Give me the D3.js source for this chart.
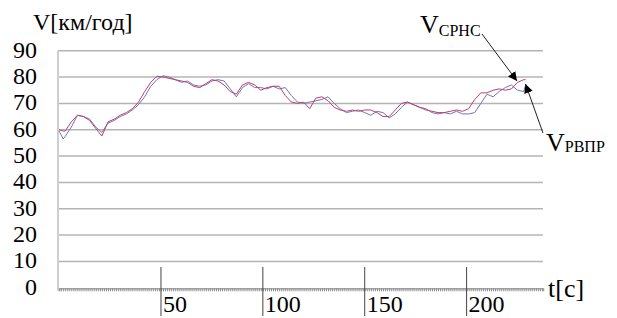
<!DOCTYPE html>
<html>
<head>
<meta charset="utf-8">
<script src="https://d3js.org/d3.v7.min.js"></script>
<style>
  body { margin: 0; background: #fff; }
  svg text { font-family: 'Liberation Serif', 'DejaVu Serif', serif !important; }
</style>
</head>
<body>
<div id="chart"></div>
<script>
// time (s)
var chasy = [0, 2, 3, 6, 9, 12, 15, 18, 21, 24, 27, 30, 33, 36, 39, 42, 45, 48, 51, 54, 57,
  60, 63, 66, 69, 72, 75, 78, 81, 84, 87, 90, 93, 96, 99, 102, 105, 108, 111, 114, 117,
  120, 123, 126, 129, 132, 135, 138, 141, 144, 147, 150, 153, 156, 159, 162, 165, 168,
  171, 174, 177, 180, 183, 186, 189, 192, 195, 198, 201, 204, 207, 210, 213, 216, 219,
  222, 225, 228, 229];
// V СРНС (red)
var vSrns = [60, 59.5, 59.5, 63, 65.5, 65, 63.5, 60.5, 57.6, 63, 64, 65.5, 66.5, 68, 70.5,
  74.5, 78, 80.3, 80, 79.5, 79, 78.5, 78, 76.5, 76, 77.5, 79, 78.5, 77, 74.5, 73.5, 77, 78,
  77, 75, 76, 76.5, 76.5, 73, 70.5, 70, 70.5, 68, 72, 72.5, 71, 68.5, 67.5, 67, 67.5, 67,
  67.5, 67.5, 66.5, 65, 65, 67.5, 70, 70.5, 69.5, 68.5, 67.5, 67, 66.5, 66.5, 67, 67.5, 67,
  68, 71.5, 74, 74, 75, 75.5, 75, 75.5, 78, 79, 79];
// V РВПР (blue)
var vRvpr = [59.5, 56.5, 57.5, 61, 65.5, 65, 64, 61, 59, 62.5, 63.5, 65, 66, 67.5, 69.5,
  72.5, 76.5, 79, 80.5, 80, 79, 78, 78.5, 77, 76.5, 77, 78.5, 79, 78.5, 75.5, 72.5, 76,
  77.5, 76, 76, 75.5, 76.5, 75.5, 76, 73, 70.5, 70, 70.5, 71, 71.5, 72.5, 70, 68, 66.5, 67,
  67.5, 66.5, 65.5, 67, 66.5, 64.5, 66, 68.5, 70.5, 69.5, 68.5, 68, 66.5, 66, 66.5, 66, 67,
  66, 66, 66.5, 70, 73.5, 72.5, 74.5, 76, 77, 75, 74.5, 77];
var yTicks = [0, 10, 20, 30, 40, 50, 60, 70, 80, 90];
var xTicks = [50, 100, 150, 200];

var W = 617, H = 318;
var svg = d3.select('#chart').append('svg')
  .attr('width', W).attr('height', H);

var x = d3.scaleLinear().domain([0, 237.5]).range([59.1, 543]);
var y = d3.scaleLinear().domain([0, 90]).range([287.8, 50.7]);

// gridlines
svg.append('g').selectAll('line')
  .data(yTicks.filter(function(d) { return d > 0; }))
  .enter().append('line')
  .attr('x1', 58).attr('x2', 543)
  .attr('y1', function(d) { return y(d); })
  .attr('y2', function(d) { return y(d); })
  .attr('stroke', '#b4b4b4').attr('stroke-width', 1.5);

// left axis
svg.append('line')
  .attr('x1', 58).attr('x2', 58)
  .attr('y1', y(90)).attr('y2', y(0) + 3)
  .attr('stroke', '#cfcfcf').attr('stroke-width', 2);

// y labels
svg.append('g').selectAll('text')
  .data(yTicks).enter().append('text')
  .attr('x', 37)
  .attr('y', function(d) { return y(d) + 7; })
  .attr('text-anchor', 'end')
  .style('font-size', '24px')
  .text(function(d) { return d; });

// bottom axis with dense minor ticks
var xAxis = d3.axisBottom(x)
  .tickValues(d3.range(0, 238, 1))
  .tickSize(3).tickFormat('');
var gx = svg.append('g')
  .attr('transform', 'translate(0,' + (y(0) + 0.5) + ')')
  .call(xAxis);
gx.select('.domain').attr('stroke', '#a8a8a8').attr('stroke-width', 1.5);
gx.selectAll('.tick line').attr('stroke', '#8c8c8c').attr('stroke-width', 1);

// major ticks
var maj = svg.append('g').selectAll('g').data(xTicks).enter().append('g');
maj.append('line')
  .attr('x1', function(d) { return x(d); })
  .attr('x2', function(d) { return x(d); })
  .attr('y1', 267).attr('y2', 316)
  .attr('stroke', '#444').attr('stroke-width', 1);
maj.append('text')
  .attr('x', function(d) { return x(d) + 2; })
  .attr('y', 312)
  .style('font-size', '24px')
  .text(function(d) { return d; });

// series
var linia = d3.line()
  .x(function(d) { return x(d[0]); })
  .y(function(d) { return y(d[1]); });

svg.append('path')
  .datum(chasy.map(function(t, i) { return [t, vRvpr[i]]; }))
  .attr('d', linia)
  .attr('fill', 'none').attr('stroke', '#7474b8').attr('stroke-width', 1);
svg.append('path')
  .datum(chasy.map(function(t, i) { return [t, vSrns[i]]; }))
  .attr('d', linia)
  .attr('fill', 'none').attr('stroke', '#b8406e').attr('stroke-width', 1);

// titles
svg.append('text').attr('x', 33).attr('y', 30)
  .style('font-size', '24px').text('V[км/год]');
svg.append('text').attr('x', 548).attr('y', 297)
  .style('font-size', '26px').text('t[c]');

var l1 = svg.append('text').attr('x', 420).attr('y', 33).style('font-size', '26px');
l1.append('tspan').text('V');
l1.append('tspan').attr('dy', 3).style('font-size', '16px').text('СРНС');
var l2 = svg.append('text').attr('x', 546).attr('y', 151).style('font-size', '26px');
l2.append('tspan').text('V');
l2.append('tspan').attr('dy', 1).style('font-size', '16px').text('РВПР');

// arrows
svg.append('defs').append('marker')
  .attr('id', 'str').attr('viewBox', '0 0 10 10')
  .attr('refX', 10).attr('refY', 5)
  .attr('markerWidth', 9).attr('markerHeight', 9)
  .attr('markerUnits', 'userSpaceOnUse')
  .attr('orient', 'auto')
  .append('path').attr('d', 'M0,0 L10,5 L0,10 z').attr('fill', '#000');

svg.append('line')
  .attr('x1', 482).attr('y1', 34).attr('x2', 517).attr('y2', 81)
  .attr('stroke', '#222').attr('stroke-width', 1)
  .attr('marker-end', 'url(#str)');
svg.append('line')
  .attr('x1', 543).attr('y1', 133).attr('x2', 525.5).attr('y2', 84)
  .attr('stroke', '#222').attr('stroke-width', 1)
  .attr('marker-end', 'url(#str)');
</script>
</body>
</html>
